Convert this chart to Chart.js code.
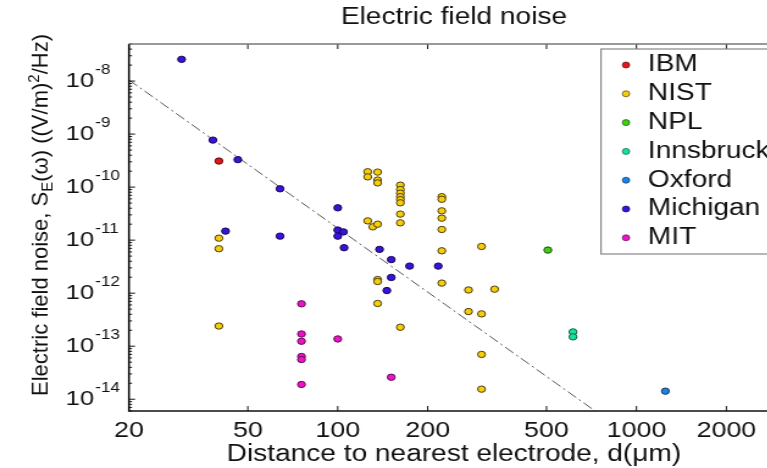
<!DOCTYPE html>
<html>
<head>
<meta charset="utf-8">
<script src="https://cdn.jsdelivr.net/npm/chart.js@4.4.1/dist/chart.umd.min.js"></script>
<style>
  html, body { margin: 0; padding: 0; background: #fff; overflow: hidden; }
  /* la figura original viene estirada en horizontal */
  #marcoRuido { width: 660px; height: 468px; transform: scaleX(1.22); transform-origin: 0 0; }
</style>
</head>
<body>
<div id="marcoRuido"><canvas id="graficaRuido"></canvas></div>
<script>
/* DATOS (distancia en µm, ruido en (V/m)^2/Hz) */
const laboratorios = ['IBM', 'NIST', 'NPL', 'Innsbruck', 'Oxford', 'Michigan', 'MIT'];

const ibmX = [40];
const ibmY = [3.1e-10];

const nistX = [40, 40, 40,
  126, 126, 126, 131,
  136, 136, 136, 136, 136, 136, 136,
  162, 162, 162, 162, 162, 162, 162, 162, 162,
  223, 223, 223, 223, 223, 223, 223,
  274, 274, 303, 303, 303, 303, 335];
const nistY = [1.09e-11, 6.9e-12, 2.4e-13,
  1.95e-10, 1.56e-10, 2.31e-11, 1.78e-11,
  1.92e-10, 1.36e-10, 1.2e-10, 2.0e-11, 1.81e-12, 1.66e-12, 6.4e-13,
  1.09e-10, 9.0e-11, 7.7e-11, 6.6e-11, 5.8e-11, 5.06e-11, 3.1e-11, 2.12e-11, 2.28e-13,
  6.6e-11, 5.9e-11, 3.57e-11, 2.6e-11, 1.59e-11, 6.3e-12, 1.55e-12,
  1.15e-12, 4.5e-13, 7.6e-12, 4.07e-13, 7.0e-14, 1.55e-14, 1.19e-12];

const nplX = [505];
const nplY = [6.5e-12];

const innsbruckX = [613, 613];
const innsbruckY = [1.86e-13, 1.5e-13];

const oxfordX = [1250];
const oxfordY = [1.42e-14];

const michiganX = [30, 38.2, 46.3, 64.1, 100, 42.1, 64.1, 100, 104.5, 100, 105,
  138, 151, 174, 217, 151, 146];
const michiganY = [2.57e-8, 7.7e-10, 3.3e-10, 9.3e-11, 4.07e-11, 1.48e-11, 1.19e-11,
  1.55e-11, 1.43e-11, 1.19e-11, 7.2e-12, 6.7e-12, 4.3e-12, 3.24e-12, 3.24e-12, 1.98e-12, 1.12e-12];

const mitX = [75.6, 75.6, 75.6, 75.6, 75.6, 75.6, 100, 151];
const mitY = [6.3e-13, 1.7e-13, 1.24e-13, 6.4e-14, 5.6e-14, 1.9e-14, 1.37e-13, 2.6e-14];

/* recta de tendencia d^-4, extremos */
const ajusteX = [20, 750];
const ajusteY = [1.05e-8, 5.3e-15];

/* EJES */
const xTicks = [20, 50, 100, 200, 500, 1000, 2000];
const yTicks = [1e-14, 1e-13, 1e-12, 1e-11, 1e-10, 1e-9, 1e-8];

const colores = ['#e8141c', '#f7cc08', '#3fd012', '#12e39a', '#1c82e8', '#3a12de', '#f012c8'];
const bordes  = ['#5a1010', '#4a3e10', '#204a10', '#145a44', '#163860', '#180850', '#5a1050'];

const fuente = '"Liberation Sans", Arial, sans-serif';
const ESTIRA = 1.22;

const puntos = (xs, ys) => xs.map((v, i) => ({ x: v, y: ys[i] }));
const seriesX = [ibmX, nistX, nplX, innsbruckX, oxfordX, michiganX, mitX];
const seriesY = [ibmY, nistY, nplY, innsbruckY, oxfordY, michiganY, mitY];

const datasets = laboratorios.map((nombre, i) => ({
  type: 'scatter',
  label: nombre,
  data: puntos(seriesX[i], seriesY[i]),
  backgroundColor: colores[i],
  borderColor: bordes[i],
  pointRadius: 3.2,
  pointBorderWidth: 1,
  order: 0
}));

datasets.push({
  type: 'line',
  label: 'ajuste',
  esAjuste: true,
  data: puntos(ajusteX, ajusteY),
  borderColor: '#555',
  borderWidth: 1,
  borderDash: [9, 3, 2, 3],
  pointRadius: 0,
  fill: false,
  order: 1
});

/* ejes estilo matlab: caja, marcas hacia dentro, etiquetas 10^n */
const ejesMatlab = {
  id: 'ejesMatlab',
  afterDatasetsDraw(chart) {
    const { ctx, chartArea: a, scales: { x, y } } = chart;
    ctx.save();
    ctx.strokeStyle = '#111';
    ctx.lineWidth = 1;
    ctx.beginPath();
    xTicks.forEach(v => {
      const px = x.getPixelForValue(v);
      ctx.moveTo(px, a.bottom); ctx.lineTo(px, a.bottom - 5);
      ctx.moveTo(px, a.top); ctx.lineTo(px, a.top + 5);
    });
    for (let e = -15; e <= -8; e++) {
      for (let k = 1; k <= 9; k++) {
        const v = k * Math.pow(10, e);
        if (v < y.min || v > y.max) continue;
        const py = y.getPixelForValue(v);
        const largo = k === 1 ? 5 : 2.5;
        ctx.moveTo(a.left, py); ctx.lineTo(a.left + largo, py);
        ctx.moveTo(a.right, py); ctx.lineTo(a.right - largo, py);
      }
    }
    ctx.stroke();

    ctx.lineWidth = 1.6;
    ctx.strokeStyle = '#111';
    ctx.beginPath();
    ctx.moveTo(a.left, a.top); ctx.lineTo(a.left, a.bottom); ctx.lineTo(a.right, a.bottom); ctx.lineTo(a.right, a.top);
    ctx.stroke();
    ctx.strokeStyle = '#777';
    ctx.lineWidth = 1.4;
    ctx.beginPath();
    ctx.moveTo(a.left, a.top); ctx.lineTo(a.right, a.top);
    ctx.stroke();

    /* etiquetas del eje y */
    ctx.fillStyle = '#111';
    ctx.textAlign = 'left';
    ctx.textBaseline = 'middle';
    yTicks.forEach(v => {
      const py = y.getPixelForValue(v);
      ctx.font = '21px ' + fuente;
      ctx.fillText('10', 53.7, py);
      const w = ctx.measureText('10').width;
      ctx.font = '14px ' + fuente;
      ctx.fillText(String(Math.round(Math.log10(v))), 53.7 + w + 1, py - 11);
    });
    ctx.restore();
  },
  afterDraw(chart) {
    const { ctx } = chart;
    ctx.save();

    /* titulo del eje y con subindice y superindice */
    const trozos = [
      ['Electric field noise, S', 22, 0],
      ['E', 15, 5],
      ['(\u03c9) ((V/m)', 22, 0],
      ['2', 15, -9],
      ['/Hz)', 22, 0]
    ];
    let total = 0;
    trozos.forEach(t => { ctx.font = t[1] + 'px ' + fuente; total += ctx.measureText(t[0]).width; });
    ctx.translate(39.3, 215);
    ctx.rotate(-Math.PI / 2);
    ctx.scale(1, 1 / ESTIRA);
    ctx.fillStyle = '#111';
    ctx.textAlign = 'left';
    ctx.textBaseline = 'alphabetic';
    let px = -total / 2;
    trozos.forEach(t => {
      ctx.font = t[1] + 'px ' + fuente;
      ctx.fillText(t[0], px, t[2]);
      px += ctx.measureText(t[0]).width;
    });
    ctx.restore();

    /* leyenda */
    ctx.save();
    const izq = 492.6, arriba = 49, ancho = 141.8, alto = 205;
    ctx.fillStyle = '#fff';
    ctx.fillRect(izq, arriba, ancho, alto);
    ctx.strokeStyle = '#888';
    ctx.lineWidth = 1.2;
    ctx.strokeRect(izq, arriba, ancho, alto);
    ctx.font = '23px ' + fuente;
    ctx.textAlign = 'left';
    ctx.textBaseline = 'middle';
    chart.data.datasets.filter(d => !d.esAjuste).forEach((d, i) => {
      const py = 65 + i * 28.8;
      ctx.beginPath();
      ctx.arc(izq + 20.5, py, 3, 0, Math.PI * 2);
      ctx.fillStyle = d.backgroundColor;
      ctx.fill();
      ctx.lineWidth = 0.7;
      ctx.strokeStyle = d.borderColor;
      ctx.stroke();
      ctx.fillStyle = '#111';
      ctx.fillText(d.label, izq + 38.5, py);
    });
    ctx.restore();
  }
};

new Chart(document.getElementById('graficaRuido'), {
  data: { datasets: datasets },
  options: {
    responsive: true,
    maintainAspectRatio: false,
    animation: false,
    events: [],
    layout: { padding: { left: 0, right: 21.5, top: 0, bottom: 0 } },
    plugins: {
      legend: { display: false },
      tooltip: { enabled: false },
      title: {
        display: true,
        text: 'Electric field noise',
        fullSize: false,
        color: '#111',
        font: { family: fuente, size: 23, weight: 'normal' },
        padding: { top: 4.2, bottom: 12.2 }
      }
    },
    scales: {
      x: {
        type: 'logarithmic',
        min: 20,
        max: 3000,
        grid: { display: false, drawTicks: false, tickLength: 0 },
        border: { display: false },
        afterBuildTicks: scale => { scale.ticks = xTicks.map(v => ({ value: v })); },
        afterFit: scale => { scale.height = 57; },
        ticks: {
          autoSkip: false,
          maxRotation: 0,
          padding: 6.3,
          color: '#111',
          font: { family: fuente, size: 22 },
          callback: value => String(value)
        },
        title: {
          display: true,
          text: 'Distance to nearest electrode, d(\u03bcm)',
          color: '#111',
          font: { family: fuente, size: 23 },
          padding: { top: 0, bottom: 0 }
        }
      },
      y: {
        type: 'logarithmic',
        min: 6e-15,
        max: 5e-8,
        grid: { display: false, drawTicks: false },
        border: { display: false },
        ticks: { display: false },
        afterFit: scale => { scale.width = 105.7; }
      }
    }
  },
  plugins: [ejesMatlab]
});
</script>
</body>
</html>
